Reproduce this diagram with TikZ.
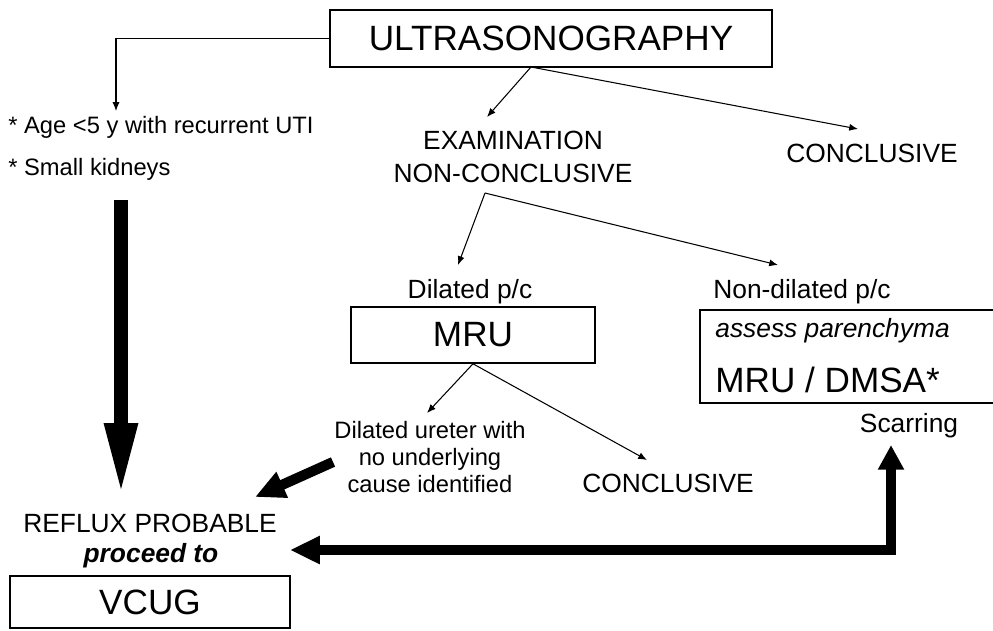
\documentclass[tikz,border=0pt]{standalone}
\usepackage{fontspec}
\setmainfont{Liberation Sans}
\usepackage{tikz}
\usetikzlibrary{
    arrows.meta
}
\tikzstyle{box} = [
    draw,
    line width=0.9pt,
    inner sep=0pt
]
\tikzstyle{big} = [font=\fontsize{20}{24}\selectfont]
\tikzstyle{lbl} = [font=\fontsize{15}{18.8}\selectfont]
\tikzstyle{note} = [font=\fontsize{13.5}{15.6}\selectfont]
\tikzstyle{arrow} = [
    line width=0.6pt,
    -{Latex[length=5pt,width=4pt]}
]
\tikzstyle{fatarrow} = [
    line width=5.8pt,
    line join=miter
]

\begin{document}
\begin{tikzpicture}[x=0.02cm,y=-0.02cm]
\useasboundingbox (0,0) rectangle (993,630);
% boxes
\node[box,big,minimum width=8.84cm,minimum height=1.14cm] (us) at (551,38.5) {ULTRASONOGRAPHY};
\node[box,big,minimum width=4.88cm,minimum height=1.12cm] (mru) at (473,335) {MRU};
\node[box,minimum width=6cm,minimum height=1.86cm] (nondil) at (850,356.5) {};
\node[box,big,minimum width=5.6cm,minimum height=1.04cm] (vcug) at (150,602) {VCUG};
% texts
\node[note,anchor=base west,inner sep=0pt] (age)    at (8,133)   {* Age <5 y with recurrent UTI};
\node[note,anchor=base west,inner sep=0pt] (small)  at (8,175)   {* Small kidneys};
\node[lbl,align=center]      (exam)   at (513,157) {EXAMINATION\\NON-CONCLUSIVE};
\node[lbl]                   (concl)  at (872,153) {CONCLUSIVE};
\node[lbl,anchor=base]       (dil)    at (470,298) {Dilated p/c};
\node[lbl,anchor=base]       (ndil)   at (802,298) {Non-dilated p/c};
\node[lbl,anchor=base west,inner sep=0pt]  (assess) at (715,337) {\itshape assess parenchyma};
\node[big,anchor=base west,inner sep=0pt]  (dmsa)   at (715,392) {MRU / DMSA*};
\node[lbl,anchor=base]       (scar)   at (909,432) {Scarring};
\node[note,align=center]     (ureter) at (430,457) {Dilated ureter with\\no underlying\\cause identified};
\node[lbl]                   (concl2) at (668,483) {CONCLUSIVE};
\node[lbl]                   (reflux) at (150,523) {REFLUX PROBABLE};
\node[lbl,anchor=base]       (proc)   at (151,562) {\bfseries\itshape proceed to};
% branch points and arrow ends
\coordinate (agein)  at (116,111);
\coordinate (ussp)   at (531,67);
\coordinate (exin)   at (487,117);
\coordinate (concin) at (858,129);
\coordinate (exsp)   at (485,193);
\coordinate (dilin)  at (458,265);
\coordinate (ndilin) at (778,265);
\coordinate (urin)   at (427,413);
\coordinate (c2in)   at (647,460);
\coordinate (downtop) at (121,200);
\coordinate (downtip) at (121,497);
\coordinate (diagtop) at (333,462);
\coordinate (diagtip) at (255,497);
\coordinate (hztip)  at (290,550);
\coordinate (uptip)  at (891,445);
% thin arrows
\draw[arrow] (us.west) -| (agein);
\draw[arrow] (ussp) -- (exin);
\draw[arrow] (ussp) -- (concin);
\draw[arrow] (exsp) -- (dilin);
\draw[arrow] (exsp) -- (ndilin);
\draw[arrow] (mru.south) -- (urin);
\draw[arrow] (mru.south) -- (c2in);
% thick arrows
\draw[fatarrow,line width=8pt,-{Triangle[length=42pt,width=17pt]}] (downtop) -- (downtip);
\draw[fatarrow,-{Triangle[length=17pt,width=15pt]}] (diagtop) -- (diagtip);
\draw[fatarrow,{Triangle[length=17pt,width=15pt]}-{Triangle[length=14pt,width=14pt]}] (hztip) -| (uptip);
\end{tikzpicture}
\end{document}
